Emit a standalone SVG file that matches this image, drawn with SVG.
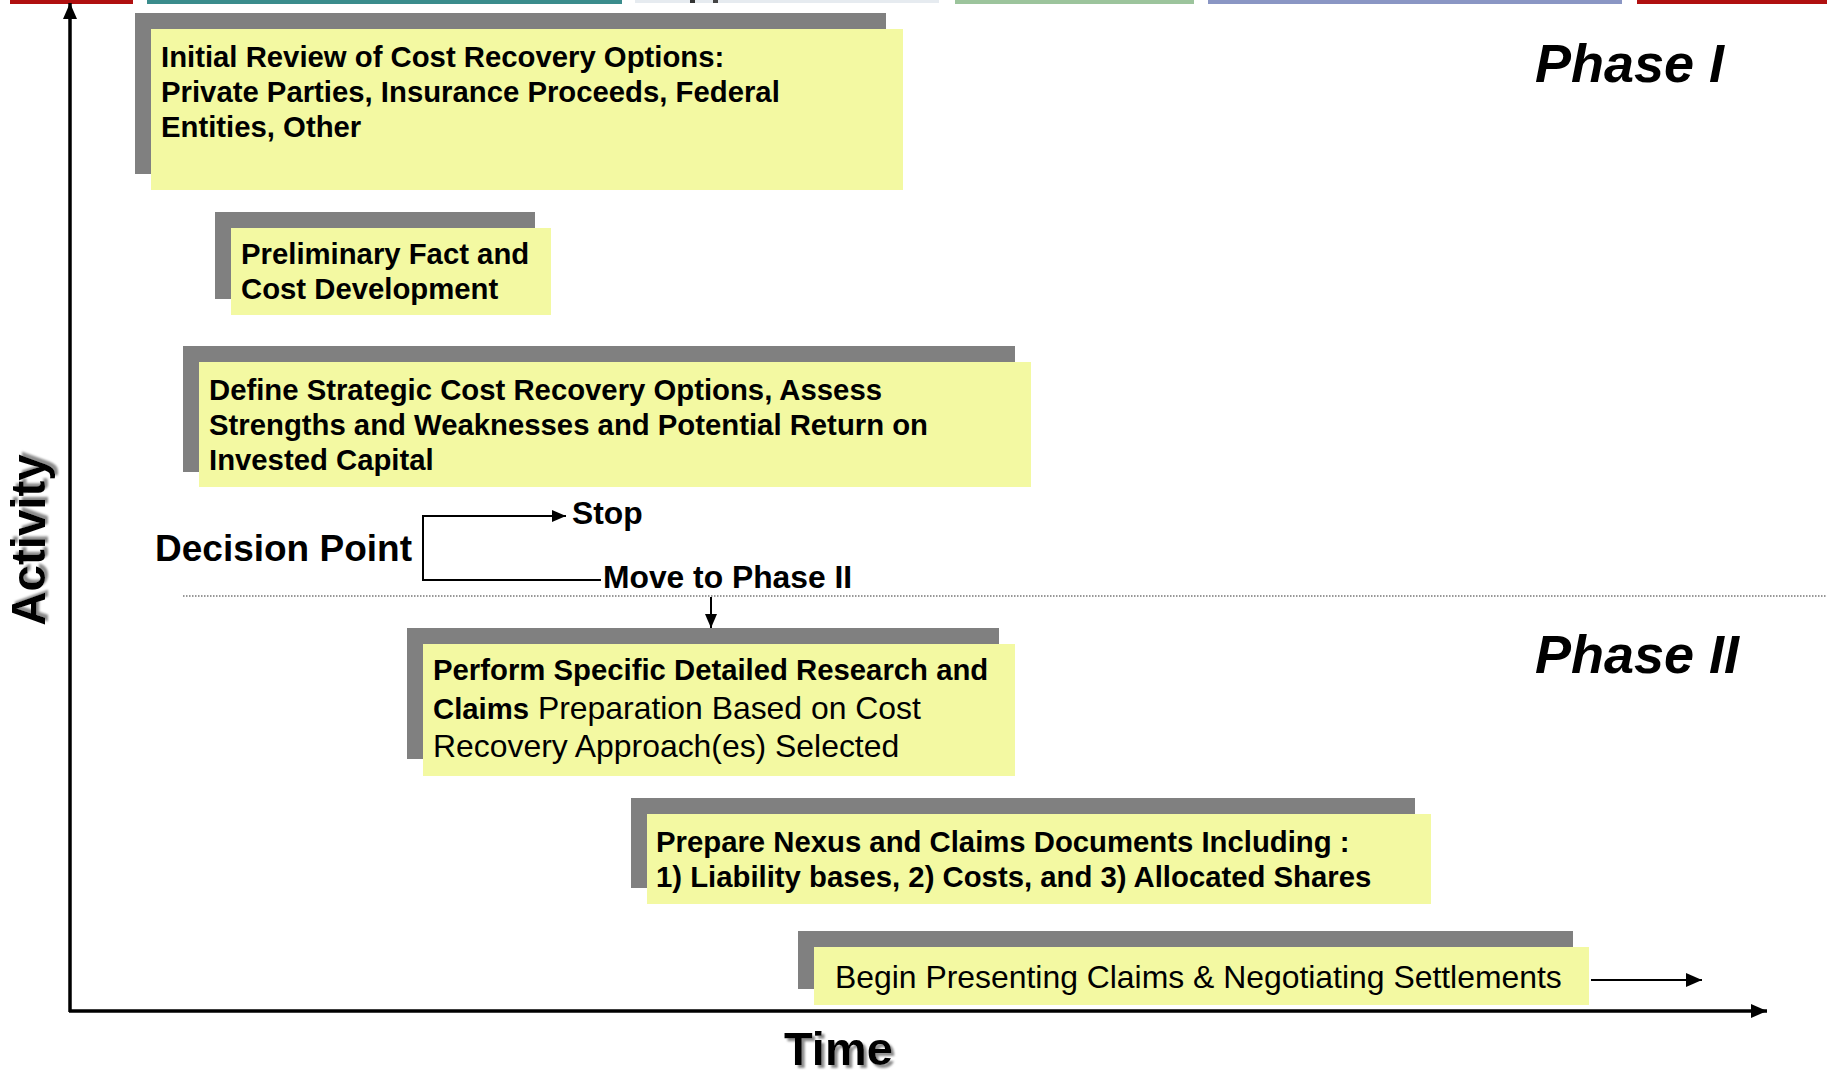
<svg xmlns="http://www.w3.org/2000/svg" width="1827" height="1073" viewBox="0 0 1827 1073">
<style>
.sh{fill:#808080}
.bx{fill:#f3f9a2}
.b{font-family:"Liberation Sans",Arial,sans-serif;font-weight:bold;font-size:29.3px;fill:#000}
.r{font-family:"Liberation Sans",Arial,sans-serif;font-weight:normal;font-size:31.9px;fill:#000}
.lbl{font-family:"Liberation Sans",Arial,sans-serif;font-weight:bold;fill:#000}
.ph{font-family:"Liberation Sans",Arial,sans-serif;font-weight:bold;font-style:italic;font-size:54px;fill:#000}
.ln{stroke:#000;stroke-width:2;fill:none}
.ax{stroke:#000;stroke-width:3.5;fill:none}
</style>
<defs>
<marker id="ah" viewBox="0 0 14 12" refX="14" refY="6" markerWidth="14" markerHeight="12" markerUnits="userSpaceOnUse" orient="auto"><path d="M0,0 L14,6 L0,12 Z" fill="#000"/></marker>
<marker id="ahl" viewBox="0 0 16 14" refX="16" refY="7" markerWidth="16" markerHeight="14" markerUnits="userSpaceOnUse" orient="auto"><path d="M0,0 L16,7 L0,14 Z" fill="#000"/></marker>
<filter id="ds" x="-10%" y="-10%" width="130%" height="130%"><feDropShadow dx="3" dy="3" stdDeviation="1.2" flood-color="#808080" flood-opacity="0.9"/></filter>
</defs>
<rect width="1827" height="1073" fill="#fff"/>
<g id="header-strip">
<rect x="10" y="0" width="123" height="4" fill="#b01010"/>
<rect x="147" y="0" width="475" height="4" fill="#3a8c8c"/>
<rect x="635" y="0" width="304" height="3" fill="#e6ebf0"/>
<rect x="690" y="0" width="5" height="3" fill="#333"/>
<rect x="713" y="0" width="5" height="3" fill="#444"/>
<rect x="955" y="0" width="239" height="4" fill="#9cc49c"/>
<rect x="1208" y="0" width="414" height="4" fill="#8a96c4"/>
<rect x="1637" y="0" width="190" height="4" fill="#b01010"/>
</g>
<g id="connectors">
<line class="ax" x1="70" y1="1012" x2="70" y2="3" marker-end="url(#ahl)"/>
<line class="ax" x1="69" y1="1011" x2="1767" y2="1011" marker-end="url(#ahl)"/>
<polyline class="ln" points="601,580 423,580 423,516 566,516" marker-end="url(#ah)"/>
<line class="ln" x1="711" y1="597" x2="711" y2="628" marker-end="url(#ah)"/>
<line class="ln" x1="1591" y1="980" x2="1702" y2="980" marker-end="url(#ahl)"/>
<line x1="183" y1="596" x2="1827" y2="596" stroke="#333" stroke-width="1.2" stroke-dasharray="1.5,1.5"/>
</g>
<g id="axis-labels">
<text class="lbl" font-size="47.5" text-anchor="middle" transform="translate(45,540) rotate(-90)" filter="url(#ds)">Activity</text>
<text class="lbl" font-size="47" x="784" y="1065" filter="url(#ds)">Time</text>
</g>
<g id="phase-labels">
<text class="ph" x="1535" y="82">Phase I</text>
<text class="ph" x="1535" y="673">Phase II</text>
</g>
<g id="node-initial-review">
<rect class="sh" x="135" y="13" width="751" height="161"/>
<rect class="bx" x="151" y="29" width="752" height="161"/>
<text class="b" x="161" y="67">Initial Review of Cost Recovery Options:</text>
<text class="b" x="161" y="102">Private Parties, Insurance Proceeds, Federal</text>
<text class="b" x="161" y="137">Entities, Other</text>
</g>
<g id="node-preliminary">
<rect class="sh" x="215" y="212" width="320" height="87"/>
<rect class="bx" x="231" y="228" width="320" height="87"/>
<text class="b" x="241" y="264">Preliminary Fact and</text>
<text class="b" x="241" y="299">Cost Development</text>
</g>
<g id="node-define">
<rect class="sh" x="183" y="346" width="832" height="126"/>
<rect class="bx" x="199" y="362" width="832" height="125"/>
<text class="b" x="209" y="400">Define Strategic Cost Recovery Options, Assess</text>
<text class="b" x="209" y="435">Strengths and Weaknesses and Potential Return on</text>
<text class="b" x="209" y="470">Invested Capital</text>
</g>
<g id="node-decision">
<text class="lbl" font-size="37" x="155" y="561">Decision Point</text>
<text class="lbl" font-size="31.8" x="572" y="524">Stop</text>
<text class="lbl" font-size="31.8" x="603" y="588">Move to Phase II</text>
</g>
<g id="node-perform">
<rect class="sh" x="407" y="628" width="592" height="131"/>
<rect class="bx" x="423" y="644" width="592" height="132"/>
<text class="b" x="433" y="680">Perform Specific Detailed Research and</text>
<text x="433" y="718.5"><tspan class="b">Claims</tspan><tspan class="r"> Preparation Based on Cost</tspan></text>
<text class="r" x="433" y="757">Recovery Approach(es) Selected</text>
</g>
<g id="node-prepare">
<rect class="sh" x="631" y="798" width="784" height="90"/>
<rect class="bx" x="647" y="814" width="784" height="90"/>
<text class="b" x="656" y="852">Prepare Nexus and Claims Documents Including :</text>
<text class="b" x="656" y="887">1) Liability bases, 2) Costs, and 3) Allocated Shares</text>
</g>
<g id="node-begin">
<rect class="sh" x="798" y="931" width="775" height="58"/>
<rect class="bx" x="814" y="947" width="775" height="58"/>
<text class="r" x="835" y="988">Begin Presenting Claims &amp; Negotiating Settlements</text>
</g>
</svg>
